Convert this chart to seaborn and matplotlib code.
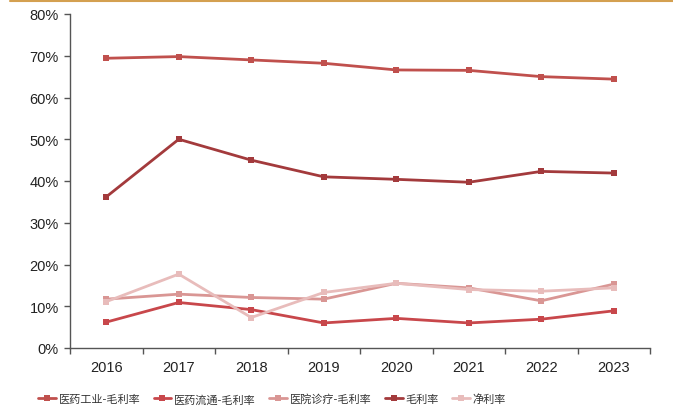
import numpy as np
import pandas as pd
import matplotlib
matplotlib.use("Agg")
import matplotlib.pyplot as plt
import seaborn as sns
from matplotlib.lines import Line2D
from matplotlib.ticker import FixedLocator, PercentFormatter

years = ["2016", "2017", "2018", "2019", "2020", "2021", "2022", "2023"]
gy_gross = [69.4, 69.8, 69.0, 68.2, 66.6, 66.5, 65.0, 64.4]      # 医药工业-毛利率
lt_gross = [6.2, 10.9, 9.2, 6.0, 7.1, 6.0, 6.9, 8.9]             # 医药流通-毛利率
yy_gross = [11.7, 12.9, 12.1, 11.7, 15.5, 14.4, 11.3, 15.3]      # 医院诊疗-毛利率
gross = [36.2, 50.0, 45.0, 41.0, 40.4, 39.7, 42.3, 41.9]         # 毛利率
net = [11.1, 17.7, 7.3, 13.3, 15.5, 14.0, 13.6, 14.4]            # 净利率

names = ["医药工业-毛利率", "医药流通-毛利率", "医院诊疗-毛利率", "毛利率", "净利率"]
series = [gy_gross, lt_gross, yy_gross, gross, net]
colors = ["#c0504d", "#c8474b", "#d99694", "#a33a3c", "#e8bcbb"]

rows = []
for n, s in zip(names, series):
    for i, (y, v) in enumerate(zip(years, s)):
        rows.append({"idx": i, "year": y, "series": n, "value": v})
df = pd.DataFrame(rows)

sns.set_theme(style="white")
plt.rcParams["font.family"] = ["Noto Sans CJK SC", "DejaVu Sans"]

fig = plt.figure(figsize=(6.73, 4.14), dpi=100)
ax = fig.add_axes([70/673, 1-349/414, (650-70)/673, (349-15)/414])

sns.lineplot(data=df, x="idx", y="value", hue="series", hue_order=names,
             palette=dict(zip(names, colors)), style="series",
             markers={n: "s" for n in names}, dashes=False, markersize=4,
             markeredgewidth=0, linewidth=2, ax=ax, legend=False)

ax.set_xlim(-0.5, len(years) - 0.5)
ax.set_ylim(0, 80)
ax.set_yticks(np.arange(0, 81, 10))
ax.yaxis.set_major_formatter(PercentFormatter(decimals=0))
ax.set_xticks(range(len(years)))
ax.set_xticklabels(years)
ax.xaxis.set_minor_locator(FixedLocator(np.arange(-0.5, len(years), 1.0)))
ax.tick_params(axis="x", which="major", length=0, pad=9, colors="#222222")
ax.tick_params(axis="x", which="minor", length=4, width=1, color="#555555", direction="out", bottom=True)
ax.tick_params(axis="y", which="major", length=4, width=1, color="#555555", direction="out", left=True,
               labelcolor="#222222", pad=4)
for lab in ax.get_xticklabels() + ax.get_yticklabels():
    lab.set_fontfamily(["Liberation Sans", "DejaVu Sans"])
    lab.set_fontsize(10.5)
ax.set_xlabel("")
ax.set_ylabel("")
for side in ["top", "right"]:
    ax.spines[side].set_visible(False)
for side in ["left", "bottom"]:
    ax.spines[side].set_color("#555555")
    ax.spines[side].set_linewidth(1)

handles = [Line2D([0], [0], color=c, lw=2, marker="s", markersize=4, markeredgewidth=0) for c in colors]
fig.legend(handles, names, loc="center", bbox_to_anchor=(272/673, 1-400/414), ncol=5,
           frameon=False, fontsize=8, handlelength=1.6, handletextpad=0.25, columnspacing=1.2,
           labelcolor="#333333")

fig.add_artist(Line2D([10/673, 1], [1-1.5/414, 1-1.5/414], color="#d4a050", lw=1.5,
                      transform=fig.transFigure))

fig.savefig("out.png", dpi=100)
